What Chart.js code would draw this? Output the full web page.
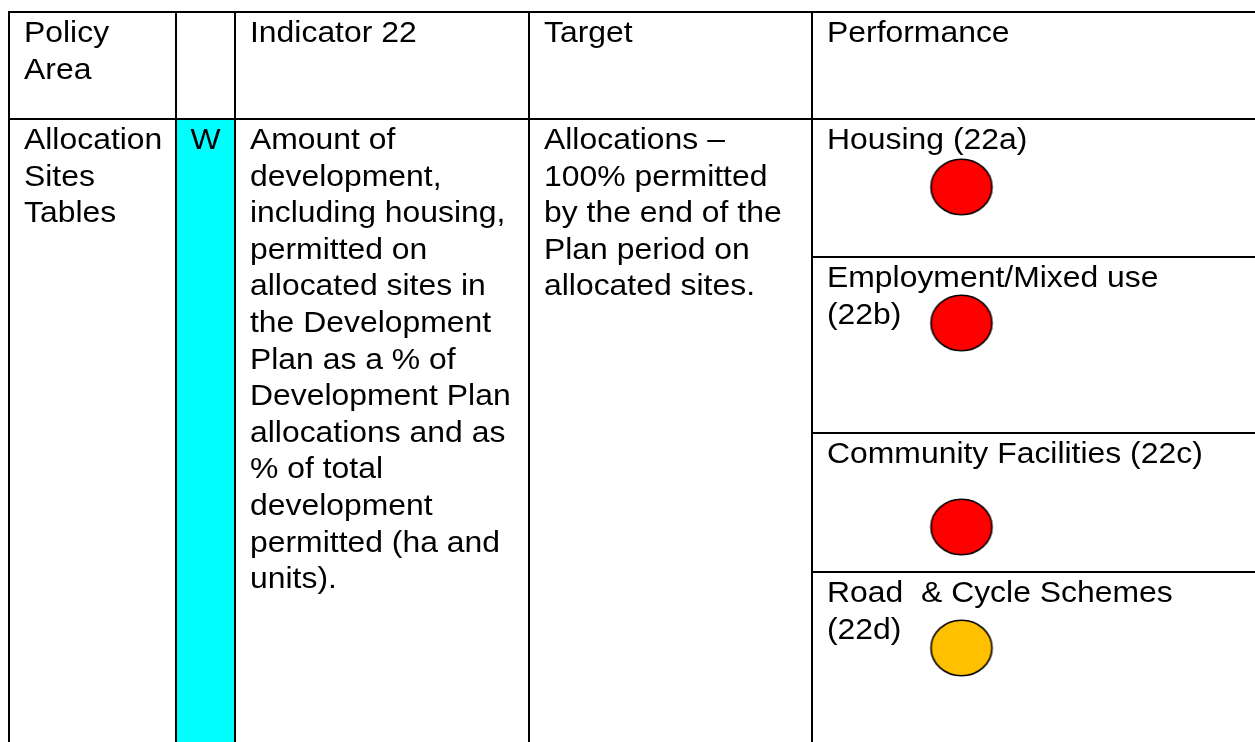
<!DOCTYPE html>
<html><head><meta charset="utf-8">
<script src="https://cdn.jsdelivr.net/npm/chart.js@4/dist/chart.umd.min.js"></script>
<style>html,body{margin:0;padding:0;background:#fff;overflow:hidden}canvas{display:block}</style>
</head><body><canvas id="c" width="1255" height="742"></canvas>
<script>
// ---- data ----
const headers = [["Policy", "Area"], [], ["Indicator 22"], ["Target"], ["Performance"]];
const policyArea = ["Allocation", "Sites", "Tables"];
const ragCode = "W";
const indicatorText = ["Amount of", "development,", "including housing,", "permitted on",
  "allocated sites in", "the Development", "Plan as a % of", "Development Plan",
  "allocations and as", "% of total", "development", "permitted (ha and", "units)."];
const targetText = ["Allocations \u2013", "100% permitted", "by the end of the", "Plan period on", "allocated sites."];
const performanceLabels = [["Housing (22a)"], ["Employment/Mixed use", "(22b)"],
  ["Community Facilities (22c)"], ["Road  & Cycle Schemes", "(22d)"]];
const performanceStatus = ["red", "red", "red", "amber"];
const statusColors = { red: "#FF0000", amber: "#FFC000" };

// ---- layout (positions/styles) ----
const W = 1255, H = 742;
const colX = [9, 176, 235, 529, 812];
const tableTop = 12, headerBottom = 119;
const subRowTops = [119, 257, 433, 572];
const circleOffsets = [68, 66, 94, 76];
const circleX = 961.5;
const FONT_PX = 29, HSCALE = 1.1, LINE_H = 36.6, BASE_OFF = 30, PAD = 15;

function ellipseCanvas(color) {
  const c = document.createElement('canvas');
  c.width = 66; c.height = 60;
  const g = c.getContext('2d');
  g.beginPath();
  g.ellipse(33, 30, 30.5, 27.8, 0, 0, Math.PI * 2);
  g.fillStyle = color; g.fill();
  g.lineWidth = 1.6; g.strokeStyle = '#000'; g.stroke();
  return c;
}

const points = performanceStatus.map((s, i) => ({ x: circleX, y: subRowTops[i] + circleOffsets[i] }));
const styles = performanceStatus.map(s => ellipseCanvas(statusColors[s]));

const tablePlugin = {
  id: 'tableGrid',
  beforeDatasetsDraw(chart) {
    const ctx = chart.ctx, xs = chart.scales.x, ys = chart.scales.y;
    const px = v => xs.getPixelForValue(v), py = v => ys.getPixelForValue(v);
    ctx.save();
    // cyan cell
    ctx.fillStyle = '#00FFFF';
    ctx.fillRect(px(colX[1]), py(headerBottom), px(colX[2]) - px(colX[1]), py(H) - py(headerBottom));
    // text
    ctx.fillStyle = '#000';
    ctx.font = FONT_PX + "px 'Liberation Sans', Arial, sans-serif";
    ctx.textBaseline = 'alphabetic';
    function lines(arr, x, top, align) {
      arr.forEach((t, i) => {
        ctx.save();
        ctx.translate(px(x), py(top + BASE_OFF + i * LINE_H));
        ctx.scale(HSCALE, 1);
        ctx.textAlign = align || 'left';
        ctx.fillText(t, 0, 0);
        ctx.restore();
      });
    }
    headers.forEach((h, i) => lines(h, colX[i] + PAD, tableTop));
    lines(policyArea, colX[0] + PAD, headerBottom);
    lines([ragCode], (colX[1] + colX[2]) / 2, headerBottom, 'center');
    lines(indicatorText, colX[2] + PAD, headerBottom);
    lines(targetText, colX[3] + PAD, headerBottom);
    performanceLabels.forEach((l, i) => lines(l, colX[4] + PAD, subRowTops[i]));
    // grid lines
    ctx.strokeStyle = '#000'; ctx.lineWidth = 2;
    ctx.beginPath();
    [tableTop, headerBottom].forEach(y => { ctx.moveTo(px(colX[0]) - 1, py(y)); ctx.lineTo(px(W), py(y)); });
    subRowTops.slice(1).forEach(y => { ctx.moveTo(px(colX[4]), py(y)); ctx.lineTo(px(W), py(y)); });
    colX.forEach(x => { ctx.moveTo(px(x), py(tableTop) - 1); ctx.lineTo(px(x), py(H)); });
    ctx.stroke();
    ctx.restore();
  }
};

new Chart(document.getElementById('c'), {
  type: 'scatter',
  data: { datasets: [{ data: points, pointStyle: styles, pointRadius: 30, backgroundColor: performanceStatus.map(s => statusColors[s]) }] },
  options: {
    responsive: false, animation: false, events: [],
    layout: { padding: 0, autoPadding: false },
    plugins: { legend: { display: false }, tooltip: { enabled: false } },
    scales: {
      x: { type: 'linear', min: 0, max: W, display: false },
      y: { type: 'linear', min: 0, max: H, reverse: true, display: false }
    }
  },
  plugins: [tablePlugin]
});
</script>
</body></html>
